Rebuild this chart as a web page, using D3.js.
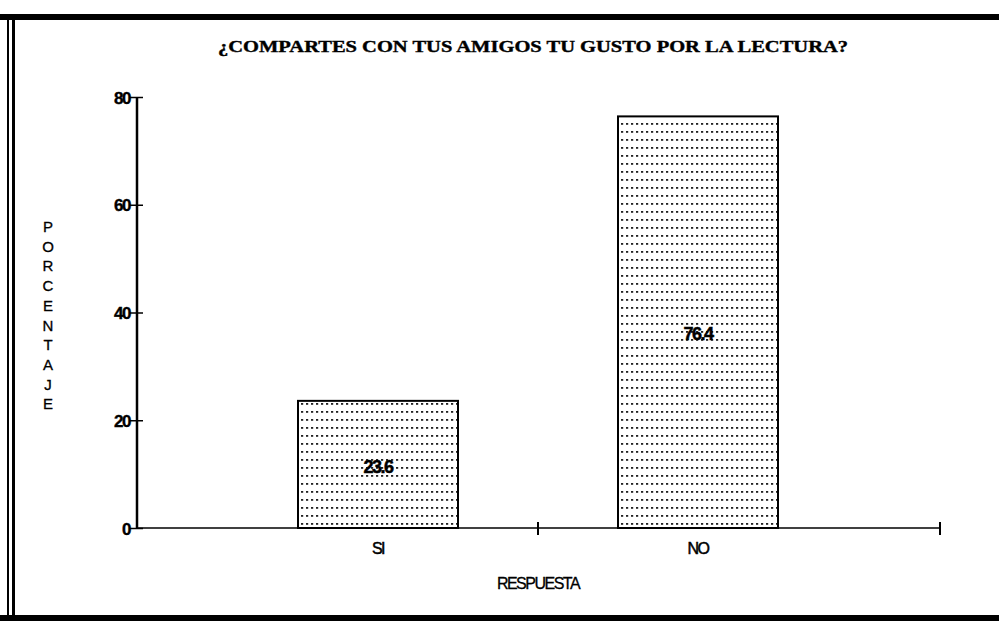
<!DOCTYPE html>
<html>
<head>
<meta charset="utf-8">
<script src="https://cdn.jsdelivr.net/npm/d3@7"></script>
<style>
  body { margin: 0; background: #fff; }
  svg { display: block; }
</style>
</head>
<body>
<svg id="chart" width="999" height="623"></svg>
<script>
// chart data
var categories = ["SI", "NO"];
var values = [23.6, 76.4];
var yTicks = [0, 20, 40, 60, 80];
var title = "\u00BFCOMPARTES CON TUS AMIGOS TU GUSTO POR LA LECTURA?";
var yLabel = "PORCENTAJE";
var xLabel = "RESPUESTA";

var svg = d3.select("#chart");
var W = 999, H = 623;
var sans = "Liberation Sans, Arial, sans-serif";

// frame, scanned-looking double left rule and thick top/bottom
svg.append("line").attr("x1", 0).attr("x2", W).attr("y1", 17).attr("y2", 17)
   .attr("stroke", "#000").attr("stroke-width", 6);
svg.append("line").attr("x1", 0).attr("x2", W).attr("y1", 618).attr("y2", 618)
   .attr("stroke", "#000").attr("stroke-width", 6);
svg.append("line").attr("x1", 8).attr("x2", 8).attr("y1", 14).attr("y2", 621)
   .attr("stroke", "#000").attr("stroke-width", 2);
svg.append("line").attr("x1", 13.5).attr("x2", 13.5).attr("y1", 14).attr("y2", 621)
   .attr("stroke", "#000").attr("stroke-width", 3);

var axisLeft = 137, axisRight = 940, y0 = 528;

var y = d3.scaleLinear().domain([0, 80]).range([y0, 97]);
var x = d3.scaleBand().domain(categories).range([218, 858])
          .paddingInner(0.5).paddingOuter(0.25);

// dotted fill pattern
var defs = svg.append("defs");
var pat = defs.append("pattern").attr("id", "dots")
   .attr("patternUnits", "userSpaceOnUse").attr("width", 5).attr("height", 8);
pat.append("rect").attr("x", 1).attr("y", 3).attr("width", 2.2).attr("height", 1.8)
   .attr("fill", "#222");

// bars
svg.selectAll(".bar").data(values).enter().append("rect")
   .attr("class", "bar")
   .attr("x", function(d, i) { return x(categories[i]); })
   .attr("y", function(d) { return y(d); })
   .attr("width", x.bandwidth())
   .attr("height", function(d) { return y0 - y(d); })
   .attr("fill", "url(#dots)")
   .attr("stroke", "#000").attr("stroke-width", 2);

// value labels
svg.selectAll(".val").data(values).enter().append("text")
   .attr("class", "val")
   .attr("x", function(d, i) { return x(categories[i]) + x.bandwidth() / 2; })
   .attr("y", function(d, i) { return (y(d) + y0) / 2 + (i ? 18 : 9); })
   .attr("text-anchor", "middle")
   .style("font-family", sans)
   .style("font-weight", "bold").style("font-size", "18px")
   .style("letter-spacing", "-1.5px")
   .attr("stroke", "#000").attr("stroke-width", 0.5)
   .text(function(d) { return d.toFixed(1); });

// y axis
var yAxis = d3.axisLeft(y).tickValues(yTicks).tickSize(0).tickPadding(0);
var gy = svg.append("g").attr("transform", "translate(" + axisLeft + ",0)").call(yAxis);
gy.select(".domain").remove();
gy.selectAll(".tick line").remove();
gy.selectAll(".tick").append("line")
   .attr("x1", -7).attr("x2", 6).attr("stroke", "#000").attr("stroke-width", 1.5);
gy.selectAll(".tick text")
   .attr("x", -7).attr("dy", "0.36em")
   .style("font-family", sans)
   .style("font-weight", "bold").style("font-size", "17px")
   .style("letter-spacing", "-1.5px").attr("fill", "#000")
   .attr("stroke", "#000").attr("stroke-width", 0.4);
svg.append("line").attr("x1", axisLeft).attr("x2", axisLeft)
   .attr("y1", y(80)).attr("y2", y0 + 1)
   .attr("stroke", "#000").attr("stroke-width", 2.5);

// x axis
svg.append("line").attr("x1", axisLeft).attr("x2", axisRight)
   .attr("y1", y0).attr("y2", y0)
   .attr("stroke", "#000").attr("stroke-width", 1.5);
var xStep = x.step();
var xTickPos = [x("SI") + x.bandwidth() / 2 + xStep / 2, axisRight];
svg.selectAll(".xt").data(xTickPos).enter().append("line")
   .attr("x1", function(d) { return d; }).attr("x2", function(d) { return d; })
   .attr("y1", y0 - 6).attr("y2", y0 + 7)
   .attr("stroke", "#000").attr("stroke-width", 2);
svg.selectAll(".xl").data(categories).enter().append("text")
   .attr("x", function(d) { return x(d) + x.bandwidth() / 2; })
   .attr("y", 554)
   .attr("text-anchor", "middle")
   .style("font-family", sans)
   .style("font-size", "16px").style("letter-spacing", "-1.5px")
   .attr("stroke", "#000").attr("stroke-width", 0.5)
   .text(function(d) { return d; });

// axis titles
svg.append("text").attr("x", x("SI") + x.bandwidth() / 2 + xStep / 2).attr("y", 589)
   .attr("text-anchor", "middle")
   .style("font-family", sans)
   .style("font-size", "16px").style("letter-spacing", "-1.5px")
   .attr("stroke", "#000").attr("stroke-width", 0.3)
   .text(xLabel);

svg.selectAll(".yl").data(yLabel.split("")).enter().append("text")
   .attr("x", 48).attr("y", function(d, i) { return 232 + i * 19.7; })
   .attr("text-anchor", "middle")
   .style("font-family", sans)
   .style("font-size", "15px")
   .attr("stroke", "#000").attr("stroke-width", 0.3)
   .text(function(d) { return d; });

// title
svg.append("text").attr("x", 218).attr("y", 52)
   .attr("textLength", 630).attr("lengthAdjust", "spacingAndGlyphs")
   .style("font-family", "Liberation Serif, Times New Roman, serif")
   .style("font-weight", "bold").style("font-size", "17px")
   .attr("stroke", "#000").attr("stroke-width", 0.4)
   .text(title);
</script>
</body>
</html>
